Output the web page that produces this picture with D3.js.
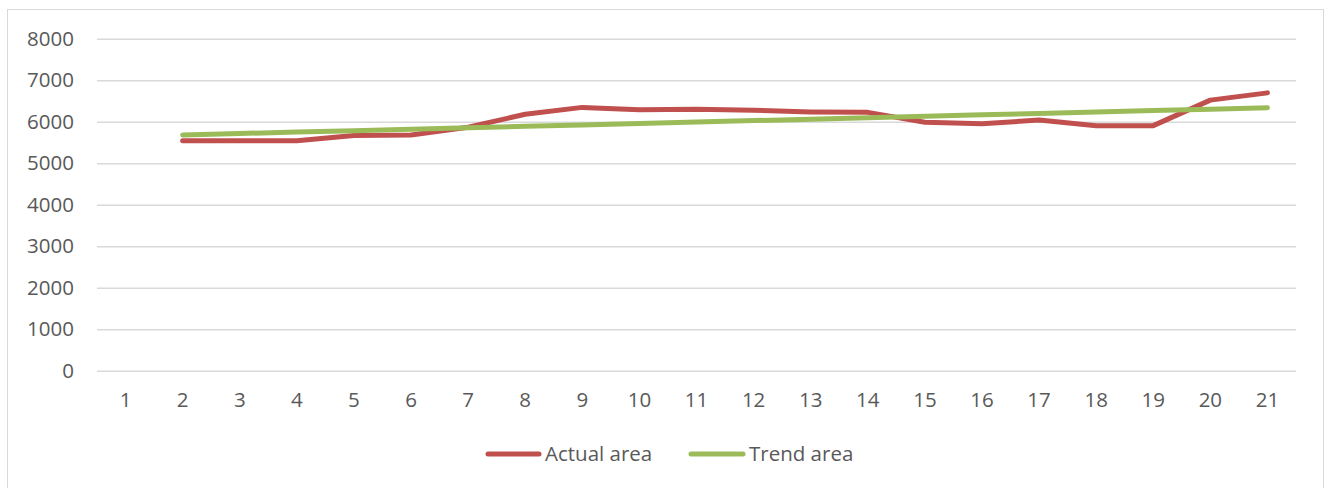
<!DOCTYPE html>
<html>
<head>
<meta charset="utf-8">
<script src="https://cdn.jsdelivr.net/npm/d3@7"></script>
<style>
  html, body { margin: 0; padding: 0; background: #fff; }
  svg { display: block; }
  text { font-family: "Open Sans", "Liberation Sans", sans-serif; fill: #595959; }
</style>
</head>
<body>
<svg id="chart" width="1331" height="488"></svg>
<script>
// Period index shown on the x axis
const categories = ["1","2","3","4","5","6","7","8","9","10","11","12","13","14","15","16","17","18","19","20","21"];
// Actual area per period (no value for period 1)
const actualArea = [null, 5540, 5540, 5540, 5665, 5680, 5865, 6180, 6345, 6285, 6300, 6275, 6235, 6225, 5985, 5950, 6040, 5905, 5905, 6520, 6695];
// Fitted trend area per period (no value for period 1)
const trendArea = [null, 5680, 5715, 5750, 5784, 5819, 5853, 5888, 5922, 5957, 5992, 6026, 6061, 6095, 6130, 6165, 6199, 6234, 6268, 6303, 6337];
const yTicks = [0, 1000, 2000, 3000, 4000, 5000, 6000, 7000, 8000];
const seriesNames = ["Actual area", "Trend area"];
const seriesColors = ["#C0504D", "#9BBB59"];

const svg = d3.select("#chart");
const fontStack = '"Open Sans", "Liberation Sans", sans-serif';
const fontSize = 20.5;

// outer chart frame
svg.append("rect")
  .attr("x", 7.5).attr("y", 9.5)
  .attr("width", 1316).attr("height", 490)
  .attr("fill", "#fff").attr("stroke", "#D9D9D9").attr("stroke-width", 1);

const plot = { left: 97, right: 1296, top: 38.7, bottom: 370.7 };

const x = d3.scaleBand().domain(categories).range([plot.left, plot.right]).padding(0);
const y = d3.scaleLinear().domain([0, 8000]).range([plot.bottom, plot.top]);

// horizontal gridlines with labels
const yAxis = d3.axisLeft(y).tickValues(yTicks).tickFormat(d3.format("d"))
  .tickSize(-(plot.right - plot.left)).tickPadding(23);
const gy = svg.append("g").attr("transform", `translate(${plot.left},0)`).call(yAxis);
gy.select(".domain").remove();
gy.selectAll(".tick line").attr("stroke", "#D9D9D9").attr("stroke-width", 1.5);
gy.selectAll(".tick text").attr("font-size", fontSize).attr("fill", "#595959")
  .style("font-family", fontStack);

// category labels
const xAxis = d3.axisBottom(x).tickSize(0).tickPadding(22);
const gx = svg.append("g").attr("transform", `translate(0,${plot.bottom})`).call(xAxis);
gx.select(".domain").remove();
gx.selectAll(".tick text").attr("font-size", fontSize).attr("fill", "#595959")
  .style("font-family", fontStack);

const line = d3.line()
  .defined(d => d != null)
  .x((d, i) => x(categories[i]) + x.bandwidth() / 2)
  .y(d => y(d));

[actualArea, trendArea].forEach((vals, k) => {
  svg.append("path")
    .datum(vals)
    .attr("d", line)
    .attr("fill", "none")
    .attr("stroke", seriesColors[k])
    .attr("stroke-width", 5)
    .attr("stroke-linecap", "round")
    .attr("stroke-linejoin", "round");
});

// legend
const legendItems = [
  { x1: 488, x2: 539, tx: 545 },
  { x1: 691, x2: 743, tx: 749 }
];
const legendY = 454;
legendItems.forEach((it, k) => {
  svg.append("line")
    .attr("x1", it.x1).attr("x2", it.x2)
    .attr("y1", legendY).attr("y2", legendY)
    .attr("stroke", seriesColors[k]).attr("stroke-width", 5)
    .attr("stroke-linecap", "round");
  svg.append("text")
    .attr("x", it.tx).attr("y", legendY)
    .attr("dy", "0.35em")
    .attr("font-size", fontSize)
    .text(seriesNames[k]);
});
</script>
</body>
</html>
